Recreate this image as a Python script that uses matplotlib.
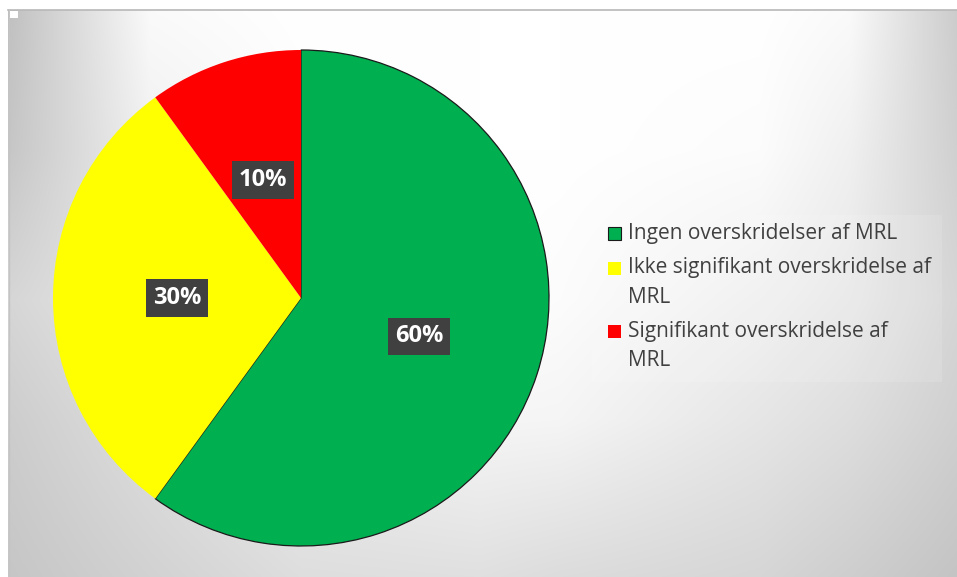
import numpy as np
import matplotlib
matplotlib.use("Agg")
import matplotlib.pyplot as plt
from matplotlib.patches import Rectangle

# ---- data ----
categories = ["Ingen overskridelser af MRL",
              "Ikke signifikant overskridelse af\nMRL",
              "Signifikant overskridelse af\nMRL"]
values = [60, 30, 10]
colors = ["#00B050", "#FFFF00", "#FF0000"]

W, H = 957, 577
fig = plt.figure(figsize=(W / 100, H / 100), dpi=100)
ax = fig.add_axes([0, 0, 1, 1])
fig.patch.set_facecolor("white")

# ---- background gradient for chart area (x 8..957, y 10..577 from top) ----
gx = np.array([8, 150, 300, 480, 560, 760, 850, 957], float)
gy = np.array([10, 150, 300, 420, 577], float)
gv = np.array([
    [192, 250, 255, 255, 255, 255, 250, 204],
    [198, 240, 252, 255, 255, 252, 240, 208],
    [214, 232, 248, 255, 252, 240, 232, 214],
    [205, 222, 238, 246, 245, 230, 222, 208],
    [198, 210, 222, 224, 220, 214, 206, 196],
], float)
x0, ytop = 8, 10
xs = np.arange(x0, W) + 0.5
ys = np.arange(ytop, H) + 0.5
rows = np.array([np.interp(xs, gx, row) for row in gv])          # (5, nx)
bg = np.array([np.interp(ys, gy, rows[:, j]) for j in range(len(xs))]).T  # (ny, nx)
v = np.clip(bg / 255.0, 0, 1)
img = np.dstack([v, v, v])
ax.imshow(img, extent=(x0, W, 0, H - ytop), origin="upper", zorder=0,
          interpolation="bilinear", aspect="auto")
ax.plot([x0, W], [H - ytop + 0.5, H - ytop + 0.5], color="#b8b8b8", lw=1.2, zorder=1)
ax.plot([x0 + 0.5, x0 + 0.5], [0, H - ytop], color="#c4c4c4", lw=1.0, zorder=1)
ax.add_patch(Rectangle((10, H - 18), 8, 7, facecolor="white", edgecolor="none", zorder=2))

# ---- pie ----
cx, cy, r = 301, H - 298, 248
wedges, texts, autotexts = ax.pie(
    values, colors=colors, startangle=90, counterclock=False,
    center=(cx, cy), radius=r, autopct="%d%%", pctdistance=0.5,
    wedgeprops=dict(linewidth=0), frame=True,
    textprops=dict(color="white", fontsize=17, fontweight="bold", family="Open Sans"))
ax.set_xlim(0, W)
ax.set_ylim(0, H)
ax.axis("off")
for w in wedges:
    w.set_zorder(3)
wedges[0].set_edgecolor("#1a1a1a")
wedges[0].set_linewidth(0.9)
for at in autotexts:
    at.set_zorder(5)
    at.set_bbox(dict(boxstyle="square,pad=0.28", facecolor="#404040", edgecolor="none"))

# ---- legend (manual) ----
ax.add_patch(Rectangle((592, H - 382), 350, 167, facecolor="white", alpha=0.12,
                       edgecolor="none", zorder=2))
entry_first_line = [233, 268, 331]
line_step = 29.5
for lab, col, yt in zip(categories, colors, entry_first_line):
    ec = "#1a1a1a" if col == colors[0] else "none"
    ax.add_patch(Rectangle((608, H - yt - 7), 13, 13, facecolor=col, edgecolor=ec,
                           lw=0.8, zorder=4))
    for k, line in enumerate(lab.split("\n")):
        ax.text(628, H - yt - k * line_step, line, color="#404040", fontsize=15,
                family="Open Sans", va="center", ha="left", zorder=4)

fig.savefig("out.png", dpi=100)
